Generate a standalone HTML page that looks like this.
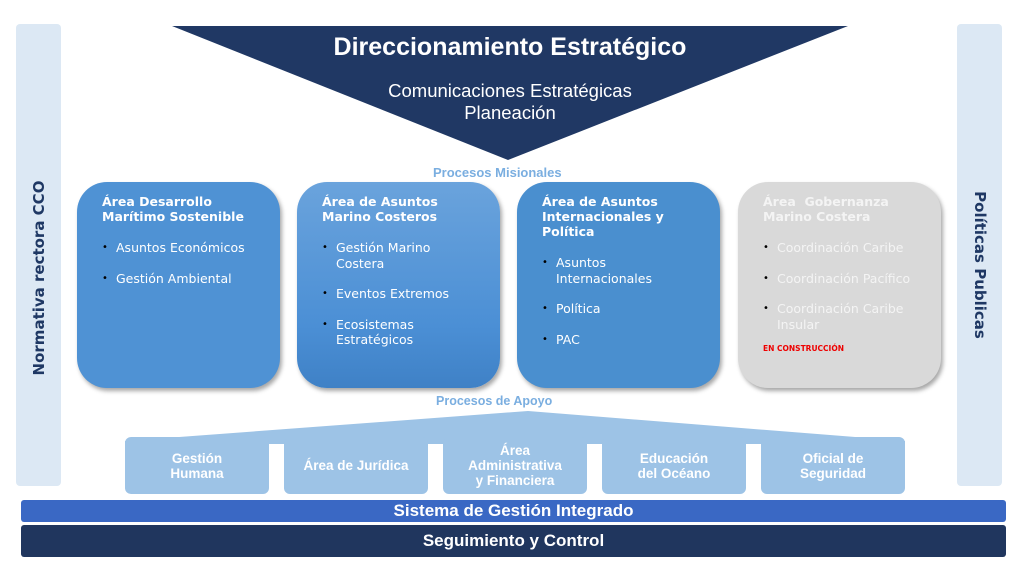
<!DOCTYPE html>
<html><head><meta charset="utf-8"><style>
*{margin:0;padding:0;box-sizing:border-box}
body{width:1024px;height:576px;background:#fff;position:relative;overflow:hidden;font-family:"DejaVu Sans",Verdana,sans-serif}
.a{position:absolute}
.side{background:#dce8f4;border-radius:4px}
.vt{position:absolute;left:50%;font-weight:bold;font-size:15px;color:#1f3864;white-space:nowrap}
.box{position:absolute;top:182px;width:203px;height:206px;border-radius:30px;color:#fff;box-shadow:2px 3px 4px rgba(0,0,0,.35);padding:12px 28px 0 25px}
.box h3{font-size:12.5px;line-height:15px;font-weight:bold}
.box ul{list-style:none;margin-top:16px}
.box li{font-size:12.5px;line-height:15.5px;padding-left:14px;position:relative;margin-bottom:15px}
.box li:before{content:"•";position:absolute;left:0;font-size:10px;color:#000}
.sb{position:absolute;top:437px;width:144px;height:57px;background:#9dc3e6;border-radius:6px;color:#fff;font-family:"Liberation Sans",sans-serif;font-weight:bold;font-size:13.5px;line-height:15px;display:flex;align-items:center;justify-content:center;text-align:center}
.lbl{position:absolute;font-family:"Liberation Sans",sans-serif;font-weight:bold;color:#7aaee0;font-size:13px}
.bar{position:absolute;left:21px;width:985px;color:#fff;font-family:"Liberation Sans",sans-serif;font-weight:bold;text-align:center;border-radius:3px}
</style></head><body>
<div class="a side" style="left:16px;top:24px;width:45px;height:462px"><div class="vt" style="top:254px;transform:translate(-50%,-50%) rotate(-90deg)">Normativa rectora CCO</div></div>
<div class="a side" style="left:957px;top:24px;width:45px;height:462px"><div class="vt" style="top:241px;transform:translate(-50%,-50%) rotate(90deg)">Políticas Publicas</div></div>
<svg class="a" style="left:0;top:0" width="1024" height="576">
<polygon points="172,26 848,26 508,160" fill="#203864"/>
<polygon points="125,441 528,411 905,441 905,444 125,444" fill="#9dc3e6"/>
</svg>
<div class="a" style="left:172px;top:33px;width:676px;text-align:center;color:#fff;font-family:'Liberation Sans',sans-serif;font-weight:bold;font-size:25px">Direccionamiento Estratégico</div>
<div class="a" style="left:172px;top:80px;width:676px;text-align:center;color:#fff;font-family:'Liberation Sans',sans-serif;font-size:18.5px;line-height:22px">Comunicaciones Estratégicas<br>Planeación</div>
<div class="lbl" style="left:433px;top:165px">Procesos Misionales</div>
<div class="box" style="left:77px;background:#4f92d4"><h3>Área Desarrollo Marítimo Sostenible</h3><ul><li>Asuntos Económicos</li><li>Gestión Ambiental</li></ul></div>
<div class="box" style="left:297px;background:linear-gradient(#6aa3dc,#4b8fd5 70%,#3f81c6)"><h3>Área de Asuntos Marino Costeros</h3><ul><li>Gestión Marino Costera</li><li>Eventos Extremos</li><li>Ecosistemas Estratégicos</li></ul></div>
<div class="box" style="left:517px;background:#4a8fcf"><h3>Área de Asuntos Internacionales y Política</h3><ul><li>Asuntos Internacionales</li><li>Política</li><li>PAC</li></ul></div>
<div class="box" style="left:738px;background:#d9d9d9;color:#f4f4f4"><h3>Área&nbsp; Gobernanza Marino Costera</h3><ul><li>Coordinación Caribe</li><li>Coordinación Pacífico</li><li>Coordinación Caribe Insular</li></ul><div style="color:#e00;font-size:7.5px;font-weight:bold;margin-top:-3px">EN CONSTRUCCIÓN</div></div>
<div class="lbl" style="left:436px;top:394px;font-size:12.5px">Procesos de Apoyo</div>
<div class="sb" style="left:125px">Gestión<br>Humana</div>
<div class="sb" style="left:284px">Área de Jurídica</div>
<div class="sb" style="left:443px">Área<br>Administrativa<br>y Financiera</div>
<div class="sb" style="left:602px">Educación<br>del Océano</div>
<div class="sb" style="left:761px">Oficial de<br>Seguridad</div>
<div class="bar" style="top:500px;height:22px;background:#3a68c4;font-size:17px;line-height:22px">Sistema de Gestión Integrado</div>
<div class="bar" style="top:525px;height:32px;background:#20365e;font-size:17px;line-height:32px">Seguimiento y Control</div>
</body></html>
